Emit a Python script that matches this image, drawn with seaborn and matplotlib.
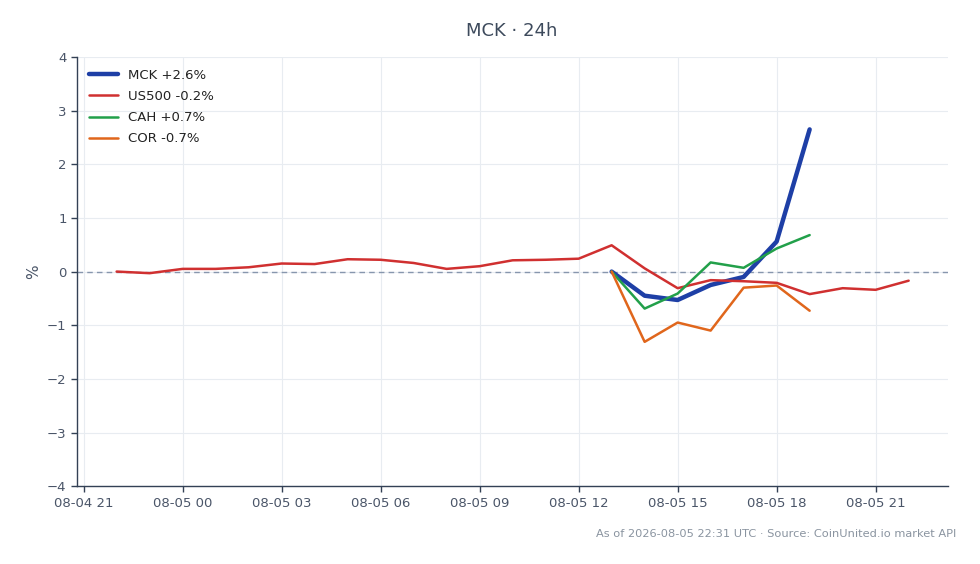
import pandas as pd
import seaborn as sns
import matplotlib.pyplot as plt
import matplotlib.dates as mdates

# hourly timestamps
us500_hours = pd.date_range("2026-08-04 22:00", "2026-08-05 22:00", freq="h")
stock_hours = pd.date_range("2026-08-05 13:00", "2026-08-05 19:00", freq="h")

us500 = [0.0, -0.03, 0.05, 0.05, 0.08, 0.15, 0.14, 0.23, 0.22, 0.16, 0.05, 0.10, 0.21,
         0.22, 0.24, 0.49, 0.06, -0.31, -0.16, -0.18, -0.21, -0.42, -0.31, -0.34, -0.17]
mck = [0.0, -0.45, -0.53, -0.25, -0.10, 0.56, 2.65]
cah = [0.0, -0.69, -0.41, 0.17, 0.07, 0.43, 0.68]
cor = [0.0, -1.31, -0.95, -1.10, -0.30, -0.26, -0.73]

labels = ["MCK +2.6%", "US500 -0.2%", "CAH +0.7%", "COR -0.7%"]
colors = ["#1e3fa6", "#d03030", "#22a04a", "#e0661c"]
widths = [3.2, 1.8, 1.8, 1.8]

sns.set_style("whitegrid", {"grid.color": "#e8ecf1", "axes.edgecolor": "#334155"})
plt.rcParams['font.family'] = ['DejaVu Sans']

fig = plt.figure(figsize=(9.8, 5.64), dpi=100)
ax = fig.add_axes([0.0786, 0.138, 0.889, 0.761])

series = [(stock_hours, mck), (us500_hours, us500), (stock_hours, cah), (stock_hours, cor)]
for (t, v), lab, c, w in zip(series, labels, colors, widths):
    df = pd.DataFrame({"time": t, "pct": v})
    sns.lineplot(data=df, x="time", y="pct", ax=ax, color=c, linewidth=w, label=lab, zorder=3)

ax.axhline(0, color="#8796ad", linestyle=(0, (4, 3)), linewidth=1, zorder=2)
ax.set_ylim(-4, 4)
ax.set_yticks(range(-4, 5))
ax.xaxis.set_major_locator(mdates.HourLocator(byhour=range(0, 24, 3)))
ax.xaxis.set_major_formatter(mdates.DateFormatter("%m-%d %H"))
ax.set_xlabel("")
ax.set_ylabel("%", color="#4a5568", fontsize=11)
ax.tick_params(axis="both", colors="#4a5568", labelsize=9.5, length=4, width=1, left=True, bottom=True)
ax.tick_params(axis="both", color="#334155")
sns.despine(ax=ax)
for s in ["left", "bottom"]:
    ax.spines[s].set_linewidth(1)
    ax.spines[s].set_color("#334155")

leg = ax.legend(loc="upper left", frameon=False, fontsize=9.5, handlelength=2.2,
                labelspacing=0.62, borderaxespad=0.5)
for t in leg.get_texts():
    t.set_color("#222222")

fig.text(0.522, 0.945, "MCK · 24h", ha="center", va="center", fontsize=13, color="#3d4a5c")
fig.text(0.976, 0.053, "As of 2026-08-05 22:31 UTC · Source: CoinUnited.io market API",
         ha="right", va="center", fontsize=8.2, color="#8a94a0")

fig.savefig("out.png", dpi=100)
